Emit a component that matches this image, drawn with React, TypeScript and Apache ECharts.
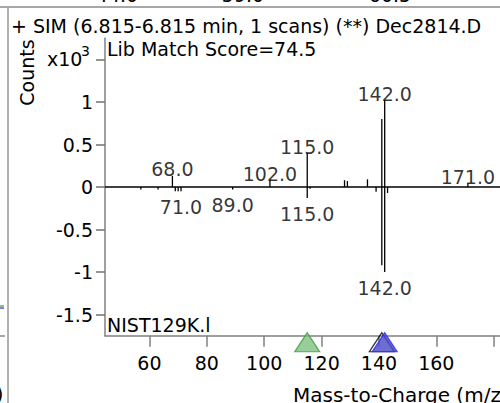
import React, { useEffect, useRef } from 'react';
import * as echarts from 'echarts';

const FONT = 'DejaVu Sans';

// Sample spectrum (upward), m/z and abundance (x10^3)
const SAMPLE_MZ = [68, 102, 115, 128, 129, 136, 141, 142, 171];
const SAMPLE_INT = [0.13, 0.08, 0.4, 0.08, 0.07, 0.09, 0.8, 1.02, 0.04];
// Library spectrum (downward, mirrored)
const LIB_MZ = [57, 63, 69, 70, 71, 89, 115, 116, 139, 141, 142, 143];
const LIB_INT = [-0.03, -0.03, -0.05, -0.05, -0.05, -0.03, -0.13, -0.02, -0.055, -0.92, -1.0, -0.07];
// Labelled peaks
const SAMPLE_LABELS = [68, 102, 115, 142, 171];
const LIB_LABELS = [71, 89, 115, 142];
// Axis ticks
const X_TICKS = [60, 80, 100, 120, 140, 160, 180];
const X_LABELS = [60, 80, 100, 120, 140, 160];
const Y_TICKS = [-1.5, -1, -0.5, 0, 0.5, 1, 1.5];
const Y_LABELS = [-1.5, -1, -0.5, 0, 0.5, 1];
const X_RANGE = [44.5, 182.2];
const Y_RANGE = [-1.75, 1.75];
// Ion markers on the m/z axis
const MARK_GREEN = [115];
const MARK_BLACK = [141];
const MARK_BLUE = [142];

const TITLE = '+ SIM (6.815-6.815 min, 1 scans) (**) Dec2814.D';
const SCORE = 'Lib Match Score=74.5';
const LIBRARY = 'NIST129K.l';
const X_NAME = 'Mass-to-Charge (m/z)';
const Y_NAME = 'Counts';

function txt(x: number, y: number, text: string, opts: any = {}) {
  return {
    type: 'text',
    x,
    y,
    rotation: opts.rotation || 0,
    silent: true,
    z: 10,
    style: {
      text,
      fontSize: opts.fontSize || 19,
      fontFamily: FONT,
      fill: opts.fill || '#000',
      textAlign: opts.align || 'left',
      align: opts.align || 'left',
      textVerticalAlign: 'middle',
      verticalAlign: 'middle',
    },
  };
}

function gline(x1: number, y1: number, x2: number, y2: number, stroke: string, lineWidth = 1.5) {
  return { type: 'line', silent: true, z: 10, shape: { x1, y1, x2, y2 }, style: { stroke, lineWidth } };
}

export default function App() {
  const ref = useRef<HTMLDivElement>(null);
  useEffect(() => {
    if (!ref.current) return;
    const chart = echarts.init(ref.current, null, { renderer: 'svg' });
    const sampleData = SAMPLE_MZ.map((m, i) => [m, SAMPLE_INT[i]]);
    const libData = LIB_MZ.map((m, i) => [m, LIB_INT[i]]);
    const upLabels = SAMPLE_LABELS.map((m) => [m, SAMPLE_INT[SAMPLE_MZ.indexOf(m)]]);
    const downLabels = LIB_LABELS.map((m) => [m, LIB_INT[LIB_MZ.indexOf(m)]]);
    const renderPeak = (params: any, api: any) => {
      const mz = api.value(0);
      const v = api.value(1);
      const p0 = api.coord([mz, 0]);
      const p1 = api.coord([mz, v]);
      return {
        type: 'line',
        shape: { x1: p0[0], y1: p0[1], x2: p1[0], y2: p1[1] },
        style: { stroke: '#000', lineWidth: 1.3 },
      };
    };
    const labelStyle = {
      show: true,
      fontSize: 19,
      fontFamily: FONT,
      color: '#000',
      formatter: (p: any) => Number(p.value[0]).toFixed(1),
    };
    const marker = (data: number[], fill: string, stroke: string) => ({
      type: 'scatter',
      data: data.map((m) => [m, Y_RANGE[0]]),
      symbol: 'triangle',
      symbolSize: [25, 19],
      symbolOffset: [0, 6.5],
      clip: false,
      silent: true,
      z: 5,
      itemStyle: { color: fill, borderColor: stroke, borderWidth: 1.2 },
    });
    chart.setOption({
      animation: false,
      grid: { left: 105, right: 0, top: 38.25, bottom: 67.25 },
      xAxis: {
        type: 'value',
        min: X_RANGE[0],
        max: X_RANGE[1],
        position: 'bottom',
        splitLine: { show: false },
        axisLine: { show: true, onZero: false, lineStyle: { color: '#808080', width: 1.5 } },
        axisTick: { show: true, customValues: X_TICKS, length: 11, lineStyle: { color: '#808080', width: 1.5 } },
        axisLabel: { customValues: X_LABELS, margin: 18, fontSize: 19, fontFamily: FONT, color: '#000' },
      },
      yAxis: {
        type: 'value',
        min: Y_RANGE[0],
        max: Y_RANGE[1],
        splitLine: { show: false },
        axisLine: { show: true, onZero: false, lineStyle: { color: '#808080', width: 1.5 } },
        axisTick: { show: true, customValues: Y_TICKS, length: 9, lineStyle: { color: '#707070', width: 1.5 } },
        axisLabel: { customValues: Y_LABELS, margin: 12, fontSize: 19, fontFamily: FONT, color: '#000' },
      },
      series: [
        {
          type: 'custom',
          name: 'sample',
          data: sampleData,
          renderItem: renderPeak,
          silent: true,
          z: 3,
        },
        {
          type: 'custom',
          name: 'library',
          data: libData,
          renderItem: renderPeak,
          silent: true,
          z: 3,
          markLine: {
            silent: true,
            symbol: ['none', 'none'],
            label: { show: false },
            lineStyle: { color: '#000', width: 1.5, type: 'solid' },
            data: [{ yAxis: 0 }],
          },
        },
        {
          type: 'scatter',
          data: upLabels,
          symbolSize: 0,
          silent: true,
          label: { ...labelStyle, position: 'top', distance: -3 },
        },
        {
          type: 'scatter',
          data: downLabels,
          symbolSize: 0,
          silent: true,
          label: { ...labelStyle, position: 'bottom', distance: 6 },
        },
        marker(MARK_GREEN, '#80c080', '#3c9c3c'),
        marker(MARK_BLACK, 'rgba(255,255,255,0)', '#000'),
        marker(MARK_BLUE, '#4848c8', '#2828ff'),
      ],
      graphic: [
        gline(0, 7, 500, 7, '#8a8a8a'),
        gline(8, 7, 8, 403, '#9a9a9a'),
        txt(117, -5, '44.0', { align: 'center' }),
        txt(243, -5, '59.0', { align: 'center' }),
        txt(390, -5, '60.5', { align: 'center' }),
        txt(11, 26, TITLE),
        txt(107, 49, SCORE),
        txt(26.5, 72.5, Y_NAME, { rotation: Math.PI / 2, align: 'center' }),
        txt(47, 58.5, 'x10'),
        txt(81, 51, '3', { fontSize: 14 }),
        txt(107, 325, LIBRARY),
        txt(293, 395, X_NAME, { fontSize: 20 }),
        txt(-4, 394, ')'),
        gline(0, 306, 4, 306, '#3c9c3c', 1.2),
        gline(0, 308, 4, 308, '#2828ff', 1.2),
        gline(0, 336, 5, 336, '#8a8a8a', 1.5),
      ],
    });
    return () => chart.dispose();
  }, []);
  return <div ref={ref} style={{ position: 'absolute', left: 0, top: 0, width: 500, height: 403 }} />;
}
